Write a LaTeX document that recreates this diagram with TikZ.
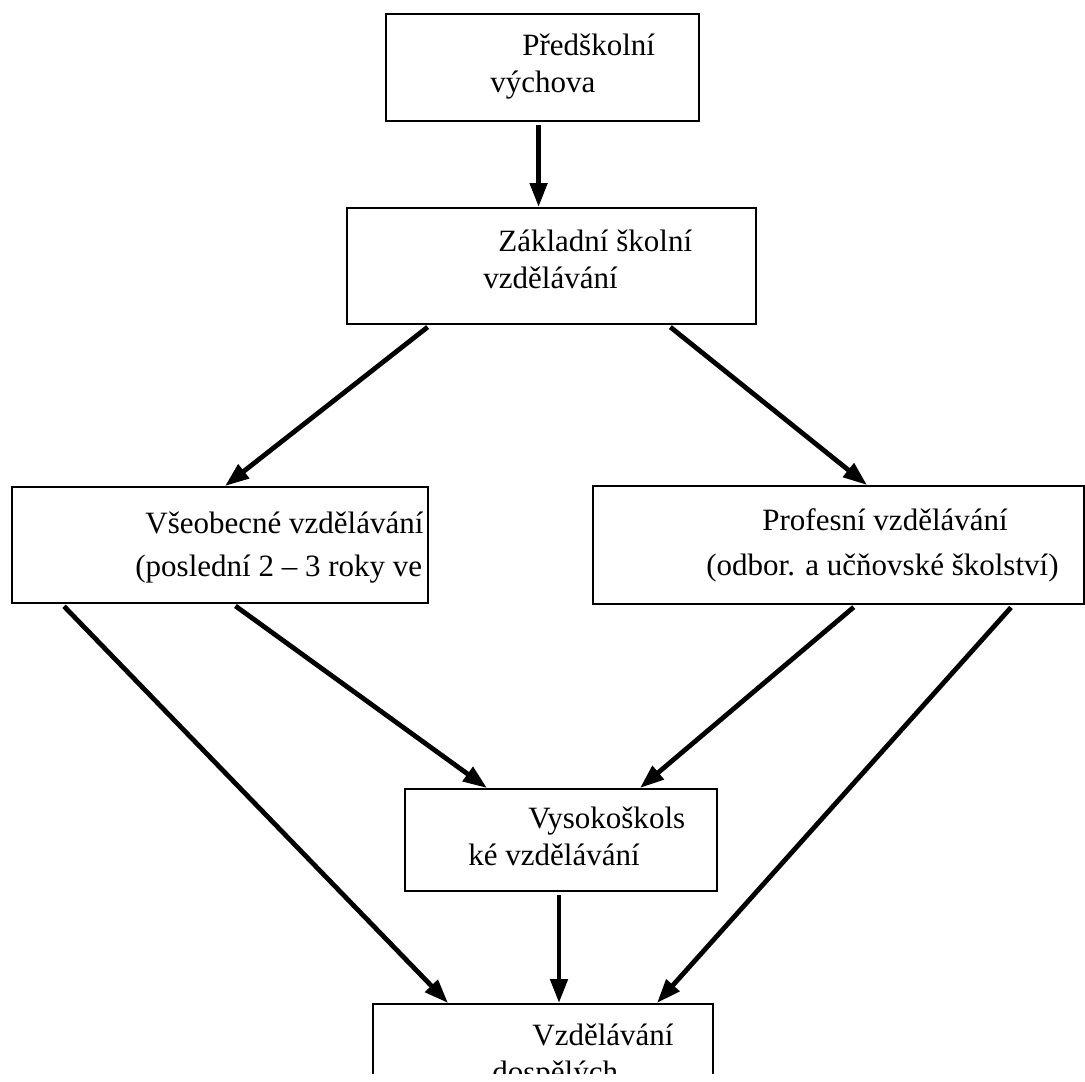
\documentclass[tikz,border=0pt]{standalone}
\usepackage{fontspec}
\setmainfont{Liberation Serif}
\usetikzlibrary{arrows.meta,positioning,calc}
\tikzset{
	box/.style={draw, line width=1.1pt, rectangle, anchor=north west, inner sep=0pt},
	txt/.style={anchor=base west, inner sep=0pt, font=\fontsize{15.5}{18}\selectfont},
	arr/.style={line width=2.4pt, -{Triangle[length=12pt,width=8.5pt]}, shorten <=1.5pt}
}
\begin{document}
\begin{tikzpicture}[x=0.5pt,y=-0.5pt]
	\useasboundingbox (0,0) rectangle (1085,1081);
	\begin{scope}
	\clip (0,0) rectangle (1085,1073);

	% boxes
	\node[box, minimum width=156.5pt, minimum height=53.5pt] (pred)  at (385,13)   {};
	\node[box, minimum width=204.5pt, minimum height=58pt]   (zakl)  at (346,207)  {};
	\node[box, minimum width=208pt,   minimum height=58pt]   (vseob) at (11,486)   {};
	\node[box, minimum width=245.5pt, minimum height=59pt]   (prof)  at (592,485)  {};
	\node[box, minimum width=156pt,   minimum height=51pt]   (vysok) at (404,788)  {};
	\node[box, minimum width=170pt,   minimum height=100pt]  (dosp)  at (372,1003) {};

	% texts
	\node[txt] (pred1)  at (522,56)   {Předškolní};
	\node[txt] (pred2)  at (490,92)   {výchova};
	\node[txt] (zakl1)  at (498,251)  {Základní školní};
	\node[txt] (zakl2)  at (483,288)  {vzdělávání};
	\node[txt] (vseob1) at (145,533)  {Všeobecné vzdělávání};
	\node[txt] (vseob2) at (135,576)  {(poslední 2 – 3 roky ve};
	\node[txt] (prof1)  at (762,530)  {Profesní vzdělávání};
	\node[txt] (prof2)  at (706,575)  {(odbor. a učňovské školství)};
	\node[txt] (vysok1) at (528,828)  {Vysokoškols};
	\node[txt] (vysok2) at (468,865)  {ké vzdělávání};
	\node[txt] (dosp1)  at (532,1045) {Vzdělávání};
	\node[txt] (dosp2)  at (492,1082) {dospělých};

	% arrows
	\draw[arr] ([xshift=-2pt]pred.south) -- ([xshift=-2pt]pred.south |- zakl.north);
	\draw[arr] ([xshift=42pt]zakl.south west) -- ([xshift=107pt]vseob.north west);
	\draw[arr] ([xshift=161pt]zakl.south west) -- ([xshift=137.5pt]prof.north west);
	\draw[arr] ([xshift=25.5pt]vseob.south west) -- ([xshift=38pt]dosp.north west);
	\draw[arr] ([xshift=111pt]vseob.south west) -- ([xshift=41.5pt]vysok.north west);
	\draw[arr] ([xshift=132pt]prof.south west) -- ([xshift=118pt]vysok.north west);
	\draw[arr] ([xshift=210.5pt]prof.south west) -- ([xshift=142.5pt]dosp.north west);
	\draw[arr] ([xshift=77.5pt]vysok.south west) -- ([xshift=93.5pt]dosp.north west);
	\end{scope}
\end{tikzpicture}
\end{document}
